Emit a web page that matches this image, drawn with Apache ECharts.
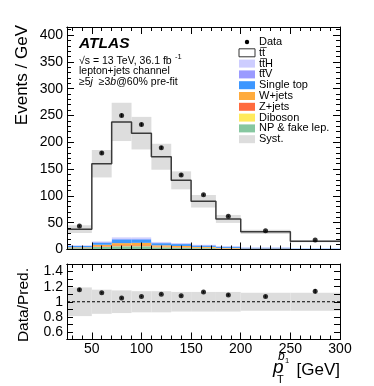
<!DOCTYPE html>
<html>
<head>
<meta charset="utf-8">
<script src="https://cdn.jsdelivr.net/npm/echarts@6/dist/echarts.min.js"></script>
<style>
  html, body { margin: 0; padding: 0; background: #fff; }
  #chart { width: 374px; height: 386px; }
</style>
</head>
<body>
<div id="chart"></div>
<script>
// bin edges of the leading b-jet pT, GeV
const binEdges = [25, 50, 70, 90, 110, 130, 150, 175, 200, 250, 300]
const dataValues = [44, 180, 250, 233, 190, 139, 102, 62, 35, 17.5]
const dataErrors = [1.3, 3, 3.5, 3.4, 3.1, 2.6, 2, 1.6, 0.8, 0.6]
const prediction = [38, 160, 238, 217, 173, 129, 90, 57, 33, 15.4]

// backgrounds, bottom of the stack first
const npFake = [2.5, 5, 6, 6, 4, 3.5, 2.5, 1.5, 1, 0.5]
const diboson = [0.1, 0.3, 0.4, 0.4, 0.3, 0.3, 0.2, 0.1, 0.1, 0.05]
const zJets = [0.5, 1, 1.5, 1.5, 1, 0.8, 0.6, 0.4, 0.2, 0.1]
const wJets = [1, 2.5, 4, 4.5, 2.5, 2, 1.5, 1, 0.6, 0.3]
const singleTop = [2.5, 4, 7, 6.5, 4, 3.5, 2.5, 2, 1.5, 0.8]
const ttV = [0.5, 1, 1.5, 1.5, 1, 1, 0.8, 0.6, 0.4, 0.3]
const ttH = [1, 1.5, 2.5, 2.5, 1.5, 1.2, 1, 0.8, 0.5, 0.3]
const ttbar = [30, 145, 215, 194, 159, 117, 81, 51, 29, 13]

// relative syst. uncertainty and the ratio panel
const systRel = [0.19, 0.16, 0.15, 0.14, 0.14, 0.13, 0.13, 0.13, 0.12, 0.12]
const ratioValues = [1.16, 1.12, 1.05, 1.07, 1.1, 1.08, 1.13, 1.09, 1.07, 1.14]
const ratioErrors = [0.02, 0.01, 0.01, 0.01, 0.01, 0.01, 0.012, 0.015, 0.015, 0.03]

// x tick positions
const xMajorTicks = [50, 100, 150, 200, 250, 300]
const xMinorTicks = [30, 40, 60, 70, 80, 90, 110, 120, 130, 140, 160, 170, 180, 190,
  210, 220, 230, 240, 260, 270, 280, 290]

const FONT = 'Liberation Sans'

function binRects(lo, hi) {
  return binEdges.slice(0, -1).map((e, i) => [e, binEdges[i + 1], lo[i], hi[i]])
}

function rectSeries(data, color, axisIdx, z) {
  return {
    type: 'custom',
    xAxisIndex: axisIdx,
    yAxisIndex: axisIdx,
    z: z,
    silent: true,
    encode: { x: [0, 1], y: [2, 3] },
    data: data,
    renderItem: function (params, api) {
      const a = api.coord([api.value(0), api.value(3)])
      const b = api.coord([api.value(1), api.value(2)])
      return {
        type: 'rect',
        shape: { x: a[0], y: a[1], width: b[0] - a[0], height: b[1] - a[1] },
        style: { fill: color },
      }
    },
  }
}

function errorSeries(values, errors, axisIdx) {
  const centers = binEdges.slice(0, -1).map((e, i) => (e + binEdges[i + 1]) / 2)
  return {
    type: 'custom',
    xAxisIndex: axisIdx,
    yAxisIndex: axisIdx,
    z: 8,
    silent: true,
    encode: { x: 0, y: [1, 2] },
    data: centers.map((c, i) => [c, values[i] - errors[i], values[i] + errors[i]]),
    renderItem: function (params, api) {
      const a = api.coord([api.value(0), api.value(1)])
      const b = api.coord([api.value(0), api.value(2)])
      return {
        type: 'line',
        shape: { x1: a[0], y1: a[1], x2: b[0], y2: b[1] },
        style: { stroke: '#000', lineWidth: 1.2 },
      }
    },
  }
}

const stackDefs = [
  { values: npFake, color: '#86c7a0' },
  { values: diboson, color: '#ffea5c' },
  { values: zJets, color: '#ff6b3f' },
  { values: wJets, color: '#ffab3d' },
  { values: singleTop, color: '#3d97ff' },
  { values: ttV, color: '#9a9aff' },
  { values: ttH, color: '#cdcdff' },
  { values: ttbar, color: '#ffffff' },
]

let base = binEdges.slice(0, -1).map(() => 0)
const stackSeries = stackDefs.map((d, k) => {
  const top = base.map((b, i) => b + d.values[i])
  const s = rectSeries(binRects(base, top), d.color, 0, 2 + k * 0.01)
  base = top
  return s
})

const bandLo = prediction.map((p, i) => p * (1 - systRel[i]))
const bandHi = prediction.map((p, i) => p * (1 + systRel[i]))
const ratioLo = systRel.map(s => 1 - s)
const ratioHi = systRel.map(s => 1 + s)

const centers = binEdges.slice(0, -1).map((e, i) => (e + binEdges[i + 1]) / 2)
const stepData = binEdges.map((e, i) => [e, prediction[Math.min(i, prediction.length - 1)]])

function xAxisDef(grid, pos, ticks, len, labels) {
  return {
    type: 'value', gridIndex: grid, position: pos, min: 25, max: 300, z: 10,
    axisLine: { show: true, onZero: false, lineStyle: { color: '#000', width: 1 } },
    axisTick: { show: true, inside: true, length: len, customValues: ticks, lineStyle: { color: '#000' } },
    splitLine: { show: false },
    axisLabel: {
      show: labels, customValues: ticks, color: '#000', fontSize: 14, fontFamily: FONT, margin: 3,
    },
  }
}

function yTopDef(pos, labels) {
  return {
    type: 'value', gridIndex: 0, position: pos, min: 0, max: 415, interval: 50, z: 10,
    axisLine: { show: true, onZero: false, lineStyle: { color: '#000', width: 1 } },
    axisTick: { show: true, inside: true, length: 7, lineStyle: { color: '#000' } },
    minorTick: { show: true, splitNumber: 5, length: 4, lineStyle: { color: '#000' } },
    splitLine: { show: false },
    axisLabel: {
      show: labels, color: '#000', fontSize: 14, fontFamily: FONT, margin: 4,
      formatter: v => (v % 50 === 0 ? String(v) : ''),
    },
  }
}

function yRatioDef(pos, labels) {
  return {
    type: 'value', gridIndex: 1, position: pos, min: 0.5, max: 1.5, interval: 0.1, z: 10,
    axisLine: { show: true, onZero: false, lineStyle: { color: '#000', width: 1 } },
    axisTick: { show: true, inside: true, length: 6, lineStyle: { color: '#000' } },
    splitLine: { show: false },
    axisLabel: {
      show: labels, color: '#000', fontSize: 14, fontFamily: FONT, margin: 4,
      formatter: v => {
        const k = Math.round(v * 10)
        if (k % 2 !== 0) return ''
        return String(k / 10)
      },
    },
  }
}

const legendRows = [
  { label: 'Data', kind: 'dot' },
  { label: 'tt\u0305', kind: 'box', color: '#ffffff' },
  { label: 'tt\u0305H', kind: 'fill', color: '#cdcdff' },
  { label: 'tt\u0305V', kind: 'fill', color: '#9a9aff' },
  { label: 'Single top', kind: 'fill', color: '#3d97ff' },
  { label: 'W+jets', kind: 'fill', color: '#ffab3d' },
  { label: 'Z+jets', kind: 'fill', color: '#ff6b3f' },
  { label: 'Diboson', kind: 'fill', color: '#ffea5c' },
  { label: 'NP & fake lep.', kind: 'fill', color: '#86c7a0' },
  { label: 'Syst.', kind: 'fill', color: '#dddddd' },
]

const graphics = []
legendRows.forEach((r, i) => {
  const y = 42 + i * 10.8
  if (r.kind === 'dot') {
    graphics.push({ type: 'circle', shape: { cx: 247, cy: y, r: 2.2 }, style: { fill: '#000' } })
  } else {
    graphics.push({
      type: 'rect', shape: { x: 239, y: y - 4, width: 16, height: 8 },
      style: { fill: r.color, stroke: r.kind === 'box' ? '#333' : null, lineWidth: 1 },
    })
  }
  graphics.push({
    type: 'text', x: 259, y: y,
    style: { text: r.label, fontSize: 11, fontFamily: FONT, fill: '#000', textVerticalAlign: 'middle' },
  })
})

graphics.push(
  { type: 'text', x: 79, y: 44, style: { text: 'ATLAS', fontSize: 15.5, fontWeight: 'bold', fontStyle: 'italic', fontFamily: FONT, fill: '#000', textVerticalAlign: 'middle' } },
  { type: 'text', x: 79, y: 61, style: { text: '\u221As = 13 TeV, 36.1 fb', fontSize: 10.5, fontFamily: FONT, fill: '#000', textVerticalAlign: 'middle' } },
  { type: 'text', x: 175, y: 57, style: { text: '-1', fontSize: 7.5, fontFamily: FONT, fill: '#000', textVerticalAlign: 'middle' } },
  { type: 'text', x: 79, y: 71.5, style: { text: 'lepton+jets channel', fontSize: 10.5, fontFamily: FONT, fill: '#000', textVerticalAlign: 'middle' } },
  {
    type: 'text', x: 79, y: 82,
    style: {
      text: '{n|\u22655}{i|j}{n|  \u22653}{i|b}{n|@60% pre-fit}',
      fontFamily: FONT, fill: '#000', textVerticalAlign: 'middle',
      rich: {
        n: { fontSize: 10.5, fontFamily: FONT, fill: '#000' },
        i: { fontSize: 10.5, fontFamily: FONT, fontStyle: 'italic', fill: '#000' },
      },
    },
  },
  { type: 'text', x: 22, y: 25, rotation: Math.PI / 2, style: { text: 'Events / GeV', fontSize: 17, fontFamily: FONT, fill: '#000', textAlign: 'right', textVerticalAlign: 'middle' } },
  { type: 'text', x: 24, y: 268, rotation: Math.PI / 2, style: { text: 'Data/Pred.', fontSize: 15.5, fontFamily: FONT, fill: '#000', textAlign: 'right', textVerticalAlign: 'middle' } },
  { type: 'text', x: 340, y: 370, style: { text: '[GeV]', fontSize: 17, fontFamily: FONT, fill: '#000', textAlign: 'right', textVerticalAlign: 'middle' } },
  { type: 'text', x: 273, y: 368, style: { text: 'p', fontSize: 19, fontStyle: 'italic', fontFamily: FONT, fill: '#000', textVerticalAlign: 'middle' } },
  { type: 'text', x: 277, y: 380, style: { text: 'T', fontSize: 11, fontFamily: FONT, fill: '#000', textVerticalAlign: 'middle' } },
  { type: 'text', x: 278, y: 357, style: { text: 'b', fontSize: 12, fontStyle: 'italic', fontFamily: FONT, fill: '#000', textVerticalAlign: 'middle' } },
  { type: 'text', x: 285, y: 361, style: { text: '1', fontSize: 7.5, fontFamily: FONT, fill: '#000', textVerticalAlign: 'middle' } }
)

const chart = echarts.init(document.getElementById('chart'))

const option = {
  animation: false,
  backgroundColor: '#fff',
  grid: [
    { left: 67, right: 34, top: 27, bottom: 136.5 },
    { left: 67, right: 34, top: 264, bottom: 46.5 },
  ],
  xAxis: [
    xAxisDef(0, 'bottom', xMajorTicks, 7, false),
    xAxisDef(0, 'bottom', xMinorTicks, 4, false),
    xAxisDef(0, 'top', xMajorTicks, 7, false),
    xAxisDef(0, 'top', xMinorTicks, 4, false),
    xAxisDef(1, 'bottom', xMajorTicks, 7, true),
    xAxisDef(1, 'bottom', xMinorTicks, 4, false),
    xAxisDef(1, 'top', xMajorTicks, 7, false),
    xAxisDef(1, 'top', xMinorTicks, 4, false),
  ],
  yAxis: [
    yTopDef('left', true),
    yTopDef('right', false),
    yRatioDef('left', true),
    yRatioDef('right', false),
  ],
  series: [
    ...stackSeries,
    rectSeries(binRects(bandLo, bandHi), '#dddddd', 0, 3),
    {
      type: 'line', xAxisIndex: 0, yAxisIndex: 0, z: 4, step: 'end', silent: true,
      showSymbol: false, data: stepData,
      lineStyle: { color: '#3a3a3a', width: 1.5 },
    },
    errorSeries(dataValues, dataErrors, 0),
    {
      type: 'scatter', xAxisIndex: 0, yAxisIndex: 0, z: 9, silent: true,
      symbolSize: 5, itemStyle: { color: '#000' },
      data: centers.map((c, i) => [c, dataValues[i]]),
    },
    // ratio panel
    {
      type: 'custom', xAxisIndex: 4, yAxisIndex: 2, z: 2, silent: true,
      encode: { x: [0, 1], y: [2, 3] },
      data: binRects(ratioLo, ratioHi),
      renderItem: rectSeries([], '#dddddd', 0, 2).renderItem,
    },
    {
      type: 'line', xAxisIndex: 4, yAxisIndex: 2, z: 4, silent: true, showSymbol: false,
      data: [[25, 1], [300, 1]],
      lineStyle: { color: '#000', width: 1, type: [3, 2] },
    },
    Object.assign(errorSeries(ratioValues, ratioErrors, 0), { xAxisIndex: 4, yAxisIndex: 2 }),
    {
      type: 'scatter', xAxisIndex: 4, yAxisIndex: 2, z: 9, silent: true,
      symbolSize: 5, itemStyle: { color: '#000' },
      data: centers.map((c, i) => [c, ratioValues[i]]),
    },
  ],
  graphic: graphics,
}

chart.setOption(option)
</script>
</body>
</html>
